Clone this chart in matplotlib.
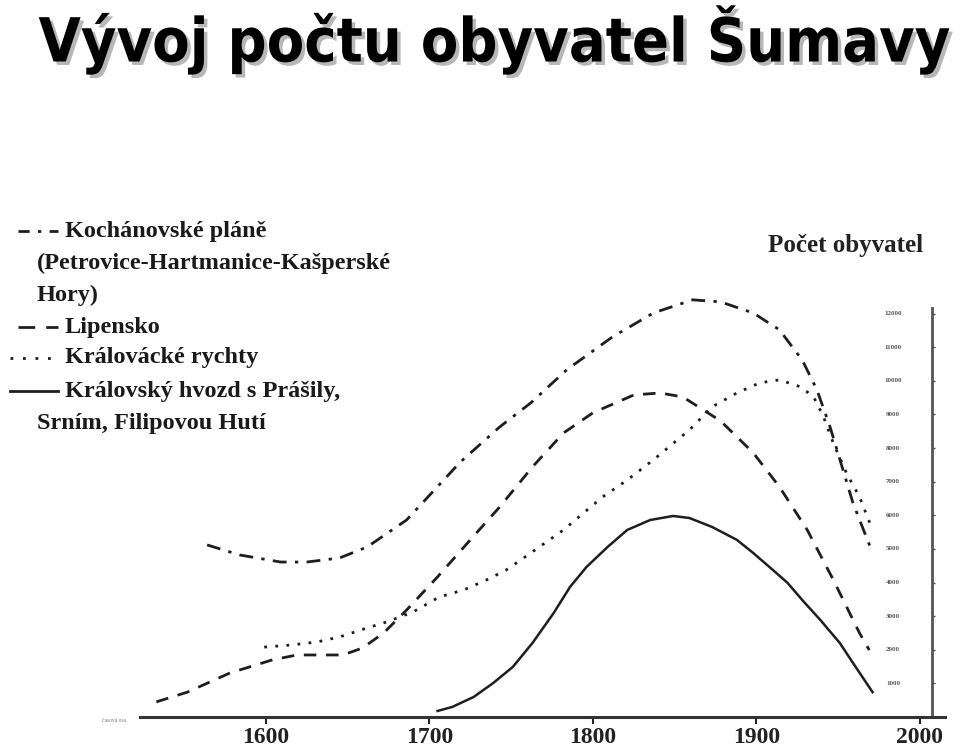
import matplotlib
matplotlib.use("Agg")
import matplotlib.pyplot as plt
from matplotlib.lines import Line2D
import matplotlib.patheffects as pe

# data (year, population)
koch_years = [1564, 1584, 1609, 1625, 1645, 1662, 1686, 1719, 1743, 1762, 1784, 1812,
              1837, 1861, 1878, 1898, 1914, 1928, 1937, 1945, 1959, 1971]
koch_vals = [5120, 4820, 4610, 4610, 4730, 5060, 5860, 7590, 8630, 9345, 10330, 11310,
             12020, 12410, 12350, 12020, 11520, 10620, 9730, 8630, 6370, 4880]

lip_years = [1533, 1552, 1578, 1604, 1619, 1633, 1647, 1659, 1672, 1686, 1705, 1725,
             1743, 1763, 1782, 1800, 1825, 1841, 1855, 1878, 1898, 1914, 1931, 1947,
             1963, 1969]
lip_vals = [450, 740, 1310, 1700, 1845, 1845, 1845, 2050, 2500, 3180, 4170, 5270,
            6250, 7440, 8450, 9050, 9580, 9640, 9520, 8810, 7860, 6850, 5570, 4080,
            2500, 1990]

kral_years = [1599, 1615, 1631, 1645, 1662, 1674, 1690, 1706, 1721, 1735, 1747, 1762,
              1782, 1806, 1821, 1837, 1859, 1873, 1888, 1902, 1914, 1927, 1935, 1941,
              1947, 1955, 1963, 1971]
kral_vals = [2080, 2140, 2230, 2380, 2650, 2830, 3125, 3570, 3780, 4080, 4375, 4880,
             5565, 6550, 7050, 7650, 8540, 9230, 9640, 9940, 10030, 9820, 9520, 8930,
             8150, 7260, 6550, 5565]

hvozd_years = [1705, 1714, 1727, 1739, 1751, 1763, 1776, 1786, 1796, 1809, 1821, 1835,
               1849, 1859, 1873, 1888, 1898, 1908, 1919, 1928, 1939, 1951, 1959, 1971]
hvozd_vals = [180, 300, 595, 1010, 1490, 2200, 3095, 3870, 4460, 5060, 5565, 5860,
              5980, 5920, 5650, 5270, 4880, 4460, 3990, 3480, 2890, 2200, 1610, 740]

x_ticks = [1600, 1700, 1800, 1900, 2000]
y_ticks = [1000, 2000, 3000, 4000, 5000, 6000, 7000, 8000, 9000, 10000, 11000, 12000]

serif = ["Liberation Serif", "DejaVu Serif"]
ink = "#1e1e1e"

fig = plt.figure(figsize=(9.6, 7.56), dpi=100)
W, H = 960, 756
ax = fig.add_axes([140 / W, (H - 717) / H, (945 - 140) / W, (717 - 280) / H])
ax.set_xlim(1523, 2015.3)
ax.set_ylim(0, 13000)

ax.plot(koch_years, koch_vals, color=ink, lw=2.0, dashes=(5, 3, 1.2, 3))
ax.plot(lip_years, lip_vals, color=ink, lw=2.0, dashes=(4.5, 3.5))
ax.plot(kral_years, kral_vals, color=ink, lw=2.0, dashes=(1, 3))
ax.plot(hvozd_years, hvozd_vals, color=ink, lw=1.8)

for s in ["top", "left"]:
    ax.spines[s].set_visible(False)
ax.spines["bottom"].set_linewidth(2.2)
ax.spines["bottom"].set_color("#333333")
ax.spines["right"].set_position(("data", 2007.3))
ax.spines["right"].set_bounds(0, 12170)
ax.spines["right"].set_linewidth(2.0)
ax.spines["right"].set_color("#555555")

ax.set_xticks(x_ticks)
ax.set_xticklabels([str(t) for t in x_ticks], fontfamily=serif,
                   fontweight="bold", fontsize=17)
ax.tick_params(axis="x", direction="out", length=5, width=1.5, pad=2, colors="#222222")

ax.set_yticks(y_ticks)
ax.tick_params(axis="y", left=False, right=True, labelleft=False, labelright=False,
               direction="out", length=2.5, width=1, color="#444444")
for t in y_ticks:
    ax.text(1983.5, t, str(t), ha="center", va="center", fontsize=5,
            fontfamily=serif, fontweight="bold", color="#555555")

# right axis caption
fig.text(846 / W, 1 - 246 / H, "Počet obyvatel", ha="center", va="center",
         fontsize=18, fontfamily=serif, fontweight="bold", color="#222222")
# tiny bottom-left caption
fig.text(114 / W, 1 - 721 / H, "časová osa", ha="center", va="center",
         fontsize=4, fontfamily=serif, color="#777777")

# legend drawn by hand
leg_lines = [
    (231, 65, "Kochánovské pláně"),
    (263, 37, "(Petrovice-Hartmanice-Kašperské"),
    (295, 37, "Hory)"),
    (327, 65, "Lipensko"),
    (358, 65, "Královácké rychty"),
    (391, 65, "Královský hvozd s Prášily,"),
    (423, 37, "Srním, Filipovou Hutí"),
]
for y, x, txt in leg_lines:
    fig.text(x / W, 1 - y / H, txt, ha="left", va="center", fontsize=17.5,
             fontfamily=serif, fontweight="bold", color="#1a1a1a")

keys = [
    (231, 18, 58, dict(dashes=(4, 3, 1.2, 3))),
    (327, 18, 58, dict(dashes=(6, 4))),
    (358, 10, 58, dict(dashes=(1, 3.5))),
    (391, 10, 58, dict()),
]
for y, x0, x1, st in keys:
    fig.add_artist(Line2D([x0 / W, x1 / W], [1 - y / H, 1 - y / H],
                          transform=fig.transFigure, color=ink, lw=2.0, **st))

# title with shadow, shrunk to fit the width of the original
title = fig.text(494 / W, 1 - 40 / H, "Vývoj počtu obyvatel Šumavy", ha="center",
                 va="center", fontsize=56, fontweight="bold", fontstretch="condensed",
                 fontfamily=["Liberation Sans Narrow", "DejaVu Sans"], color="black",
                 path_effects=[pe.withSimplePatchShadow(offset=(2.5, -2.5),
                                                        shadow_rgbFace="#999999",
                                                        alpha=0.7)])
fig.canvas.draw()
tw = title.get_window_extent().width
if tw > 912:
    title.set_fontsize(56 * 912 / tw)

fig.savefig("out.png", dpi=100)
